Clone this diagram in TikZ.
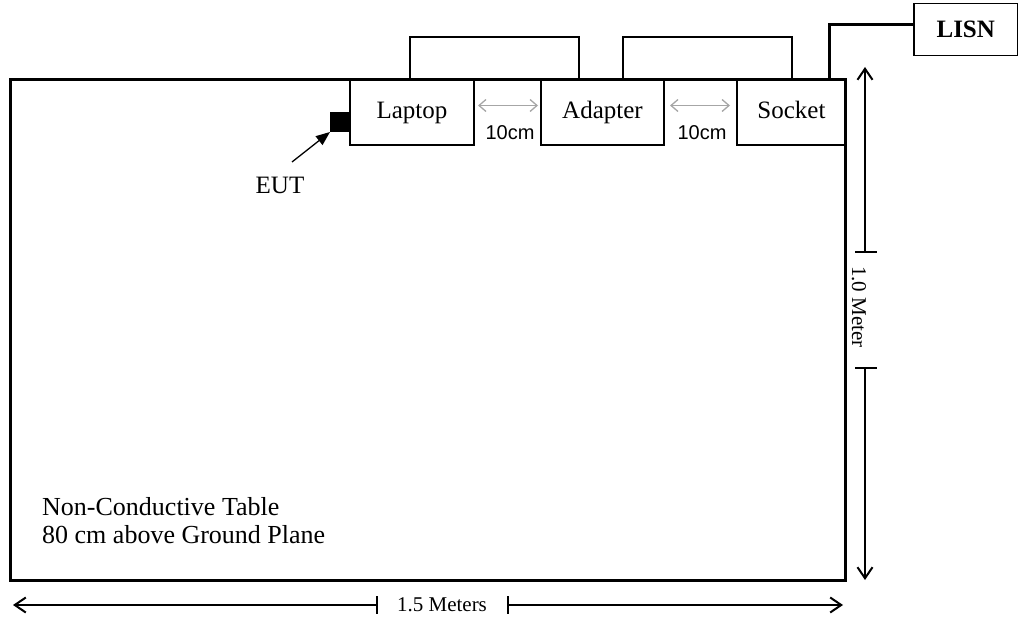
\documentclass[tikz,border=0pt]{standalone}
\usepackage{fontspec}
\setmainfont{Liberation Serif}
\newfontfamily\arialfont{Liberation Sans}
\usetikzlibrary{arrows.meta,calc}
\begin{document}
\begin{tikzpicture}[x=1pt,y=-1pt,
 box/.style={draw,line width=1.5pt,rectangle,anchor=north west,inner sep=0pt,outer sep=0pt,minimum height=65pt,font=\fontsize{25}{29}\selectfont},
 wire/.style={line width=1.5pt},
 dim/.style={line width=1.3pt},
 barb/.style={-{Straight Barb[length=11pt,width=15pt,line width=2pt]}},
 gap/.style={gray!70,line width=1.3pt,{Straight Barb[length=7pt,width=12pt]}-{Straight Barb[length=7pt,width=12pt]}},
 lbl/.style={font=\fontsize{21}{25}\selectfont, inner sep=0pt},
 cmlbl/.style={font=\arialfont\fontsize{20}{24}\selectfont, inner sep=0pt}
]
\useasboundingbox (0,0) rectangle (1018,620);

% boxes
\node[box,minimum width=124pt] (laptop) at (350,80) {Laptop\strut};
\node[box,minimum width=123pt] (adapter) at (541,80) {Adapter\strut};
\node[box,minimum width=109pt] (socket) at (737,80) {Socket\strut};
\node[draw,line width=1.5pt,anchor=north west,inner sep=0pt,minimum width=104pt,minimum height=52pt,font=\bfseries\fontsize{25}{29}\selectfont] (lisn) at (913,3) {LISN};

% table
\node[draw,line width=3pt,anchor=north west,minimum width=835pt,minimum height=500pt,inner sep=0pt,outer sep=0pt] (table) at (10,80) {};
\node[anchor=west,align=left,inner sep=0pt,font=\fontsize{26}{28}\selectfont] (tabletext) at (42,521) {Non-Conductive Table\\80 cm above Ground Plane};

% cables
\draw[wire] ($(laptop.north west)+(60,0)$) -- ++(0,-43) -| ($(adapter.north west)+(38,0)$);
\draw[wire] ($(adapter.north west)+(82,0)$) -- ++(0,-43) -| ($(socket.north west)+(55,0)$);
\draw[line width=3pt] ($(socket.north west)+(92,0)$) |- ($(lisn.west)+(0,-5)$);

% gaps
\draw[gap] ($(laptop.east)+(4,-7)$) -- ($(adapter.west)+(-3,-7)$);
\draw[gap] ($(adapter.east)+(6,-7)$) -- ($(socket.west)+(-7,-7)$);
\node[cmlbl] (gap1) at (510,133) {10cm};
\node[cmlbl] (gap2) at (702,133) {10cm};

% EUT
\node[fill=black,minimum size=20pt,inner sep=0pt,outer sep=0pt,anchor=north east] (eutsq) at (350,112) {};
\node[inner sep=0pt,font=\fontsize{25}{29}\selectfont] (eut) at (280,185) {EUT};
\coordinate (eutarrow) at (292,162);
\draw[line width=1.3pt,-{Triangle[length=14pt,width=11pt]}] (eutarrow) -- (eutsq.south west);

% vertical dimension
\coordinate (vtop) at (865,67);
\coordinate (vbar1) at (865,252);
\coordinate (vbar2) at (865,368);
\coordinate (vbot) at (865,580);
\node[lbl,rotate=-90] (vlabel) at (859,307) {1.0 Meter};
\draw[dim,barb] (vbar1) -- (vtop);
\draw[dim,barb] (vbar2) -- (vbot);
\draw[dim] ($(vbar1)+(-10,0)$) -- ($(vbar1)+(12,0)$);
\draw[dim] ($(vbar2)+(-10,0)$) -- ($(vbar2)+(12,0)$);

% horizontal dimension
\coordinate (hleft) at (13,605);
\coordinate (hbar1) at (377,605);
\coordinate (hbar2) at (508,605);
\coordinate (hright) at (843,605);
\node[lbl] (hlabel) at (442,605) {1.5 Meters};
\draw[dim,barb] (hbar1) -- (hleft);
\draw[dim,barb] (hbar2) -- (hright);
\draw[dim] ($(hbar1)+(0,-9)$) -- ($(hbar1)+(0,9)$);
\draw[dim] ($(hbar2)+(0,-9)$) -- ($(hbar2)+(0,9)$);
\end{tikzpicture}
\end{document}
